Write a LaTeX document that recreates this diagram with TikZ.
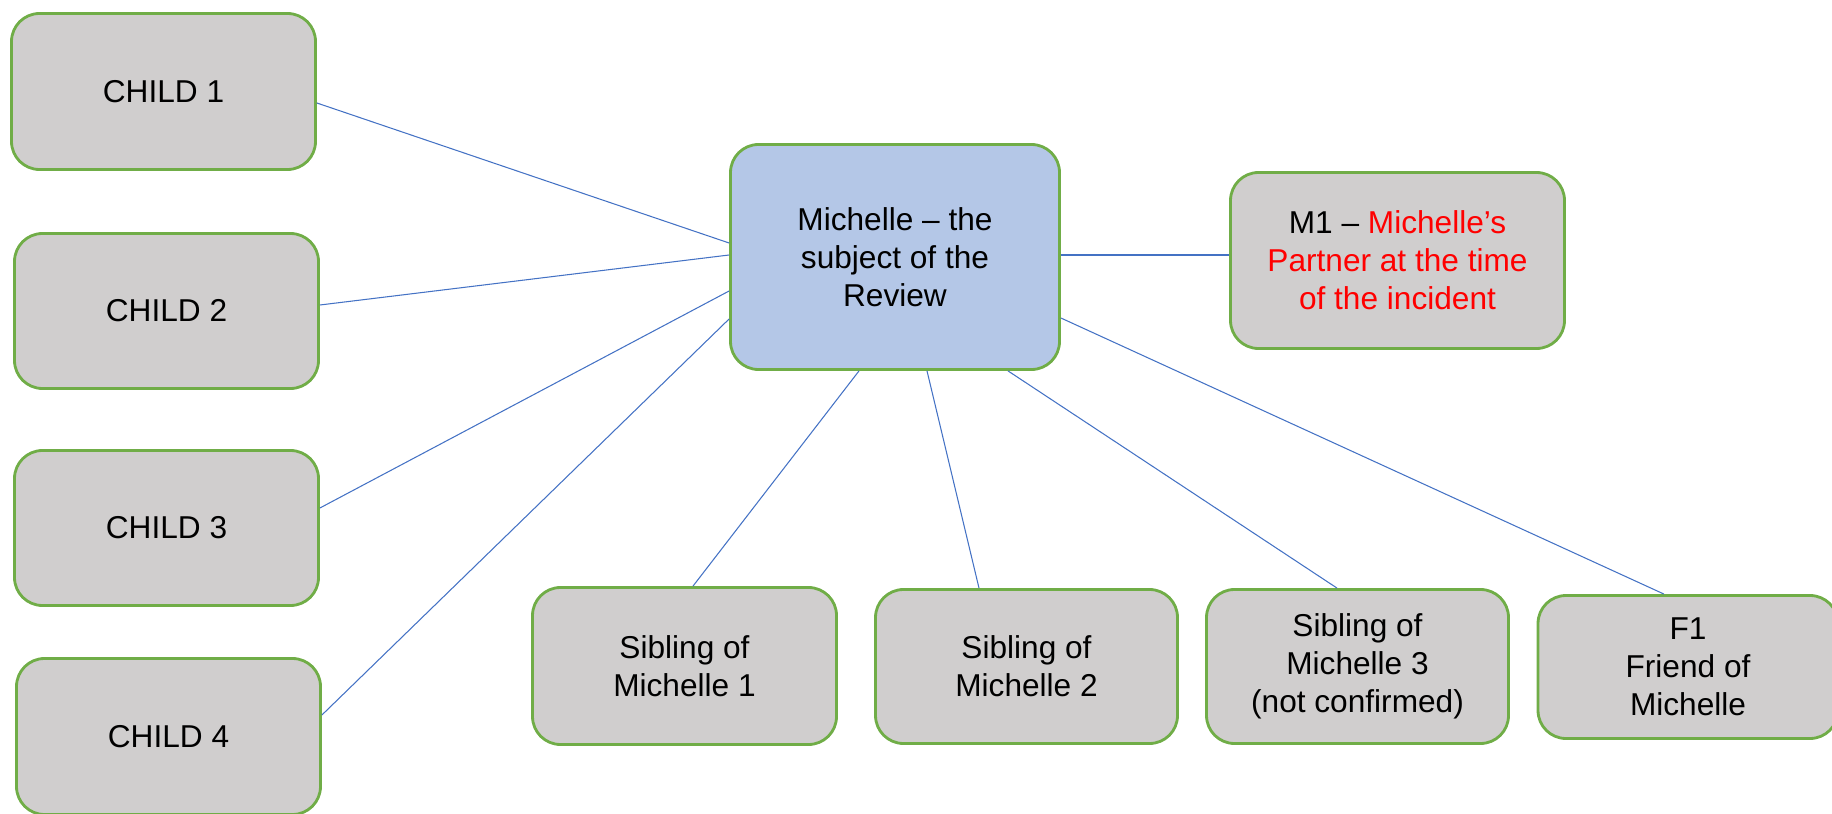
\documentclass[tikz,border=0pt]{standalone}
\usepackage{fontspec}
\setmainfont{Liberation Sans}
\usetikzlibrary{calc}
\definecolor{boxgray}{HTML}{D0CECE}
\definecolor{boxblue}{HTML}{B4C7E7}
\definecolor{boxgreen}{HTML}{70AD47}
\definecolor{linkblue}{HTML}{4472C4}
\definecolor{redtxt}{HTML}{FF0000}
\begin{document}
\begin{tikzpicture}[x=0.02cm,y=-0.02cm,
  box/.style={draw=boxgreen, line width=1.6pt, fill=boxgray, rounded corners=0.56cm,
    minimum width=#1*0.02cm, align=center, inner sep=0pt,
    font=\fontsize{18}{21.6}\selectfont},
  box/.default=304,
  link/.style={draw=linkblue, line width=0.6pt}]
\useasboundingbox (0,0) rectangle (1832,814);
\node[box=304, minimum height=156*0.02cm] (child1) at (163.5,91.5) {CHILD 1};
\node[box=304, minimum height=155*0.02cm] (child2) at (166.5,311) {CHILD 2};
\node[box=304, minimum height=155*0.02cm] (child3) at (166.5,528) {CHILD 3};
\node[box=304, minimum height=156*0.02cm] (child4) at (168.5,736.5) {CHILD 4};
\node[box=329, minimum height=225*0.02cm, fill=boxblue] (center) at (895,257) {Michelle – the\\subject of the\\Review};
\node[box=334, minimum height=176*0.02cm] (m1) at (1397.5,260.5) {M1 – \textcolor{redtxt}{Michelle’s}\\\textcolor{redtxt}{Partner at the time}\\\textcolor{redtxt}{of the incident}};
\node[box=304, minimum height=157*0.02cm] (sib1) at (684.5,666) {Sibling of\\Michelle 1};
\node[box=302, minimum height=154*0.02cm] (sib2) at (1026.5,666.5) {Sibling of\\Michelle 2};
\node[box=302, minimum height=154*0.02cm] (sib3) at (1357.5,666.5) {Sibling of\\Michelle 3\\(not confirmed)};
\node[box=300, minimum height=143*0.02cm] (f1) at (1688,667) {F1\\Friend of\\Michelle};
\begin{scope}[link]
\draw ($(child1.east)+(0,11.5)$) -- ($(center.west)+(0,-14)$);
\draw ($(child2.east)+(0,-6)$) -- ($(center.west)+(0,-2)$);
\draw ($(child3.east)+(0,-20)$) -- ($(center.west)+(0,34)$);
\draw ($(child4.east)+(0,-21.5)$) -- ($(center.west)+(0,62)$);
\draw ($(sib1.north)+(8.5,0)$) -- ($(center.south)+(-36,0)$);
\draw ($(sib2.north)+(-47.5,0)$) -- ($(center.south)+(32,0)$);
\draw ($(sib3.north)+(-20.5,0)$) -- ($(center.south)+(113,0)$);
\draw ($(f1.north)+(-24,0)$) -- ($(center.east)+(0,61)$);
\draw ($(center.east)+(0,-2)$) -- ($(m1.west)+(0,-5.5)$);
\end{scope}
\end{tikzpicture}
\end{document}
